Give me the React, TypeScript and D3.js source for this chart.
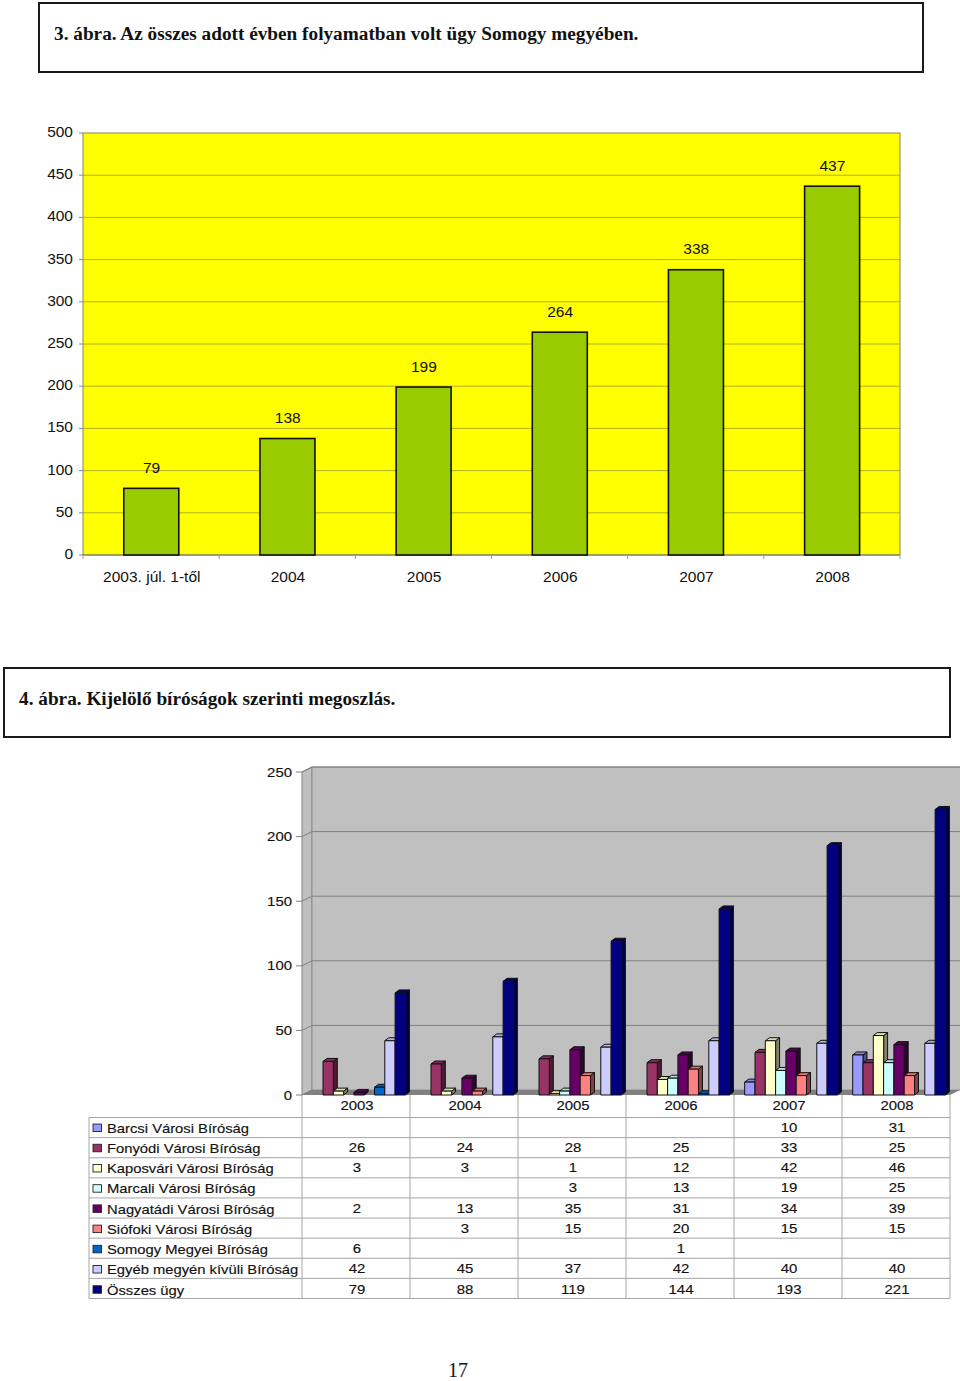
import React from "react";
import * as d3 from "d3";

const topCategories = ["2003. júl. 1-től", "2004", "2005", "2006", "2007", "2008"];
const topValues = [79, 138, 199, 264, 338, 437];
const topTicks = [0, 50, 100, 150, 200, 250, 300, 350, 400, 450, 500];

const years = ["2003", "2004", "2005", "2006", "2007", "2008"];
const courts = [
  "Barcsi Városi Bíróság",
  "Fonyódi Városi Bíróság",
  "Kaposvári Városi Bíróság",
  "Marcali Városi Bíróság",
  "Nagyatádi Városi Bíróság",
  "Siófoki Városi Bíróság",
  "Somogy Megyei Bíróság",
  "Egyéb megyén kívüli Bíróság",
  "Összes ügy",
];
const courtColors = ["#9999ff", "#993366", "#ffffcc", "#ccffff", "#660066", "#ff8080", "#0066cc", "#ccccff", "#000080"];
const barcsi = [null, null, null, null, 10, 31];
const fonyodi = [26, 24, 28, 25, 33, 25];
const kaposvari = [3, 3, 1, 12, 42, 46];
const marcali = [null, null, 3, 13, 19, 25];
const nagyatadi = [2, 13, 35, 31, 34, 39];
const siofoki = [null, 3, 15, 20, 15, 15];
const somogy = [6, null, null, 1, null, null];
const egyeb = [42, 45, 37, 42, 40, 40];
const osszes = [79, 88, 119, 144, 193, 221];
const courtSeries = [barcsi, fonyodi, kaposvari, marcali, nagyatadi, siofoki, somogy, egyeb, osszes];
const bottomTicks = [0, 50, 100, 150, 200, 250];

const SANS = "'Liberation Sans', Arial, sans-serif";
const SERIF = "'Liberation Serif', 'Times New Roman', serif";

function Stretched({ x, y, anchor = "middle", size = 13.4, stretch = 1.115, children }: any) {
  return (
    <text
      transform={`translate(${x},${y}) scale(${stretch},1)`}
      textAnchor={anchor}
      fontFamily={SANS}
      fontSize={size}
      fill="#111"
      stroke="#111"
      strokeWidth={0.15}
    >
      {children}
    </text>
  );
}

export default function App() {
  // top chart
  const x1 = d3.scaleBand<string>().domain(topCategories).range([83, 900]);
  const y1 = d3.scaleLinear().domain([0, 500]).range([555, 133]);
  const barW1 = 55;

  // bottom chart
  const DX = 10;
  const DY = 5;
  const x2 = d3.scaleBand<string>().domain(years).range([302, 950]);
  const y2 = d3.scaleLinear().domain([0, 250]).range([1095, 772]);
  const inner = d3
    .scaleBand<number>()
    .domain(d3.range(courts.length))
    .range([10.7, 103.4]);
  const BD = 4;
  const BH = 3;

  const rowY = d3
    .scaleBand<number>()
    .domain(d3.range(courts.length))
    .range([1117.5, 1298.5]);
  const rowText = d3.scaleLinear().domain([0, courts.length - 1]).range([1127.6, 1289.6]);

  return (
    <svg
      width={960}
      height={1381}
      viewBox="0 0 960 1381"
      style={{ position: "absolute", left: 0, top: 0, display: "block", background: "#fff" }}
    >
      {/* title box 1 */}
      <rect x={39} y={3} width={884} height={69} fill="#fff" stroke="#1a1a1a" strokeWidth={2} />
      <text x={54} y={40} fontFamily={SERIF} fontSize={19.25} fontWeight="bold" fill="#111">
        3. ábra. Az összes adott évben folyamatban volt ügy Somogy megyében.
      </text>

      {/* top chart */}
      <rect x={83} y={y1(500)} width={817} height={y1(0) - y1(500)} fill="#ffff00" stroke="#8a8a50" strokeWidth={1} />
      {topTicks.map((t) => (
        <g key={t}>
          {t > 0 && t < 500 && <line x1={83} x2={900} y1={y1(t)} y2={y1(t)} stroke="#b0b020" strokeWidth={1} />}
          <line x1={79} x2={83} y1={y1(t)} y2={y1(t)} stroke="#888" />
          <text x={73} y={y1(t) + 4} textAnchor="end" fontFamily={SANS} fontSize={15.5} fill="#111">
            {t}
          </text>
        </g>
      ))}
      <line x1={83} x2={900} y1={555} y2={555} stroke="#777" strokeWidth={1.2} />
      {d3.range(topCategories.length + 1).map((i) => {
        const xx = 83 + i * x1.step();
        return <line key={i} x1={xx} x2={xx} y1={555} y2={559} stroke="#999" />;
      })}
      {topCategories.map((c, i) => {
        const cx = x1(c)! + x1.bandwidth() / 2 + 0.2;
        return (
          <g key={c}>
            <rect
              x={cx - barW1 / 2}
              y={y1(topValues[i])}
              width={barW1}
              height={y1(0) - y1(topValues[i])}
              fill="#99cc00"
              stroke="#111"
              strokeWidth={1.6}
            />
            <text x={cx + 0.3} y={y1(topValues[i]) - 15.5} textAnchor="middle" fontFamily={SANS} fontSize={15.5} fill="#111">
              {topValues[i]}
            </text>
            <text x={cx + 0.5} y={582} textAnchor="middle" fontFamily={SANS} fontSize={15.5} fill="#111">
              {c}
            </text>
          </g>
        );
      })}

      {/* title box 2 */}
      <rect x={4} y={668} width={946} height={69} fill="#fff" stroke="#1a1a1a" strokeWidth={2} />
      <text x={19} y={705} fontFamily={SERIF} fontSize={19.25} fontWeight="bold" fill="#111">
        4. ábra. Kijelölő bíróságok szerinti megoszlás.
      </text>

      {/* 3D chart walls */}
      <polygon
        points={`${302},${y2(0)} ${302},${y2(250)} ${302 + DX},${y2(250) - DY} ${302 + DX},${y2(0) - DY}`}
        fill="#c0c0c0"
        stroke="#808080"
      />
      <rect x={302 + DX} y={y2(250) - DY} width={660} height={y2(0) - y2(250)} fill="#c0c0c0" stroke="#909090" />
      <polygon
        points={`${302},${y2(0)} ${302 + DX},${y2(0) - DY} ${960},${y2(0) - DY} ${950},${y2(0)}`}
        fill="#808080"
      />
      {bottomTicks.map((t) => (
        <g key={t}>
          {t > 0 && <line x1={312} x2={960} y1={y2(t) - DY} y2={y2(t) - DY} stroke="#808080" />}
          <polyline
            points={`296,${y2(t)} 302,${y2(t)} ${302 + DX},${y2(t) - DY}`}
            fill="none"
            stroke="#808080"
          />
          <Stretched x={292} y={y2(t) + 4.5} anchor="end">
            {t}
          </Stretched>
        </g>
      ))}

      {/* 3D bars */}
      {years.map((yr, yi) =>
        courtSeries.map((series, si) => {
          const v = series[yi];
          if (v == null) return null;
          const bx = x2(yr)! + inner(si)!;
          const bw = inner.bandwidth();
          const top = y2(v);
          const base = y2(0);
          const col = d3.color(courtColors[si])!;
          return (
            <g key={yr + si} stroke="#111" strokeWidth={1} strokeLinejoin="round">
              <polygon
                points={`${bx + bw},${base} ${bx + bw},${top} ${bx + bw + BD},${top - BH} ${bx + bw + BD},${base - BH}`}
                fill={col.darker(1.9).formatHex()}
              />
              <polygon
                points={`${bx},${top} ${bx + bw},${top} ${bx + bw + BD},${top - BH} ${bx + BD},${top - BH}`}
                fill={col.darker(0.4).formatHex()}
              />
              <rect x={bx} y={top} width={bw} height={base - top} fill={courtColors[si]} />
            </g>
          );
        }),
      )}

      {/* data table */}
      <g stroke="#a6a6a6" strokeWidth={1}>
        {d3.range(courts.length + 1).map((i) => {
          const yy = 1117.5 + i * rowY.step();
          return <line key={i} x1={89} x2={950} y1={yy} y2={yy} />;
        })}
        <line x1={89} x2={89} y1={1117.5} y2={1298.5} />
        <line x1={950} x2={950} y1={1095} y2={1298.5} />
        {years.map((yr) => (
          <line key={yr} x1={x2(yr)!} x2={x2(yr)!} y1={1095} y2={1298.5} />
        ))}
      </g>
      {years.map((yr) => (
        <Stretched key={yr} x={x2(yr)! + x2.bandwidth() / 2 + 1} y={1110}>
          {yr}
        </Stretched>
      ))}
      {courts.map((c, i) => {
        const ry = rowText(i);
        const sy = rowY(i)! + rowY.bandwidth() / 2 + i * 0.1;
        return (
          <g key={c}>
            <rect x={93} y={sy - 3.5} width={8.5} height={7.5} fill={courtColors[i]} stroke="#222" strokeWidth={0.9} />
            <Stretched x={107} y={ry + 5} anchor="start" stretch={1.103}>
              {c}
            </Stretched>
            {courtSeries[i].map((v, yi) =>
              v == null ? null : (
                <Stretched key={yi} x={x2(years[yi])! + x2.bandwidth() / 2 + 1} y={ry + 4}>
                  {v}
                </Stretched>
              ),
            )}
          </g>
        );
      })}

      <text x={458} y={1376.5} textAnchor="middle" fontFamily={SERIF} fontSize={20} fill="#111">
        17
      </text>
    </svg>
  );
}
